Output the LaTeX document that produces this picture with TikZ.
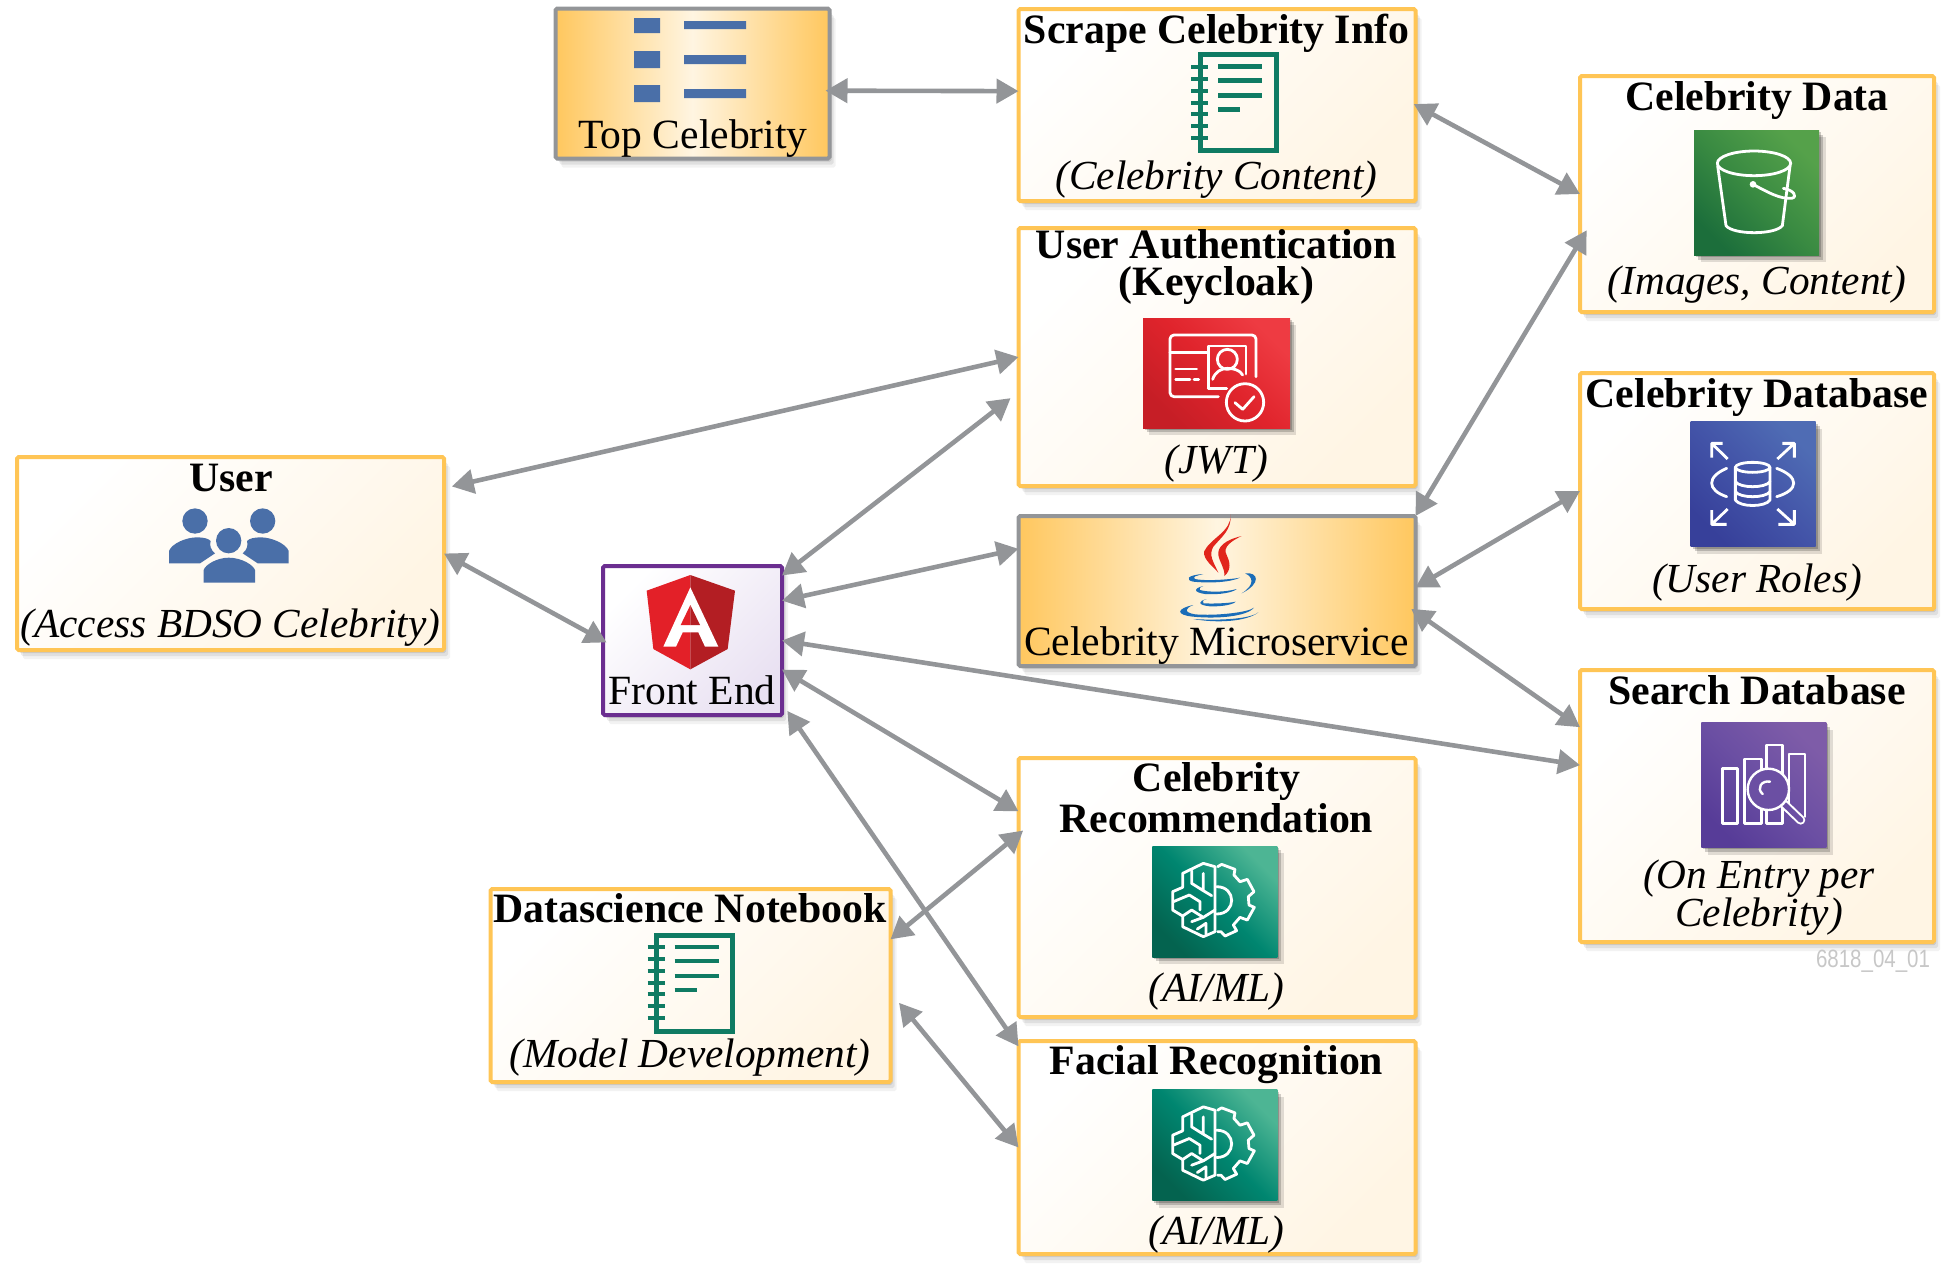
\documentclass[tikz,border=0pt]{standalone}
\usepackage{fontspec}
\setmainfont{Liberation Serif}
\newfontfamily\tagfont[FakeStretch=0.82]{Liberation Sans}
\usepackage{tikz}
\usetikzlibrary{positioning, shadows, arrows.meta}
\definecolor{panelyellow}{HTML}{FFC555}
\definecolor{panelcream}{HTML}{FFF5E4}
\definecolor{warmorange}{HTML}{FFC75E}
\definecolor{warmcream}{HTML}{FFF5E1}
\definecolor{linkgray}{HTML}{939598}
\definecolor{frontpurple}{HTML}{6B2E90}
\definecolor{frontlilac}{HTML}{E9E1F2}
\definecolor{listblue}{HTML}{4A6FA8}
\definecolor{noteteal}{HTML}{0F7B63}
\definecolor{javablue}{HTML}{1B6DB8}
\definecolor{javared}{HTML}{E1251B}
\definecolor{shieldred}{HTML}{E32028}
\definecolor{shielddark}{HTML}{B31E23}
\definecolor{redtop}{HTML}{EE3B42}
\definecolor{redmid}{HTML}{E0242C}
\definecolor{redlow}{HTML}{C61E26}
\definecolor{greentop}{HTML}{55A14A}
\definecolor{greenmid}{HTML}{3A8B42}
\definecolor{greenlow}{HTML}{1C6E3B}
\definecolor{bluetop}{HTML}{4F6CB4}
\definecolor{bluemid}{HTML}{4354A8}
\definecolor{bluelow}{HTML}{37409A}
\definecolor{purpletop}{HTML}{7E5CA8}
\definecolor{purplemid}{HTML}{6B4FA3}
\definecolor{purplelow}{HTML}{573C98}
\definecolor{tealtop}{HTML}{4DB594}
\definecolor{tealmid}{HTML}{008670}
\definecolor{teallow}{HTML}{04634F}
\tikzset{
    auto,node distance =14pt and 14pt,
    softshadow/.style ={drop shadow={shadow xshift=1pt,shadow yshift=-1.5pt,opacity=.1,fill=black},
        drop shadow={shadow xshift=2pt,shadow yshift=-3pt,opacity=.08,fill=black},
        drop shadow={shadow xshift=3pt,shadow yshift=-4.5pt,opacity=.05,fill=black}},
    panel/.style ={rectangle, draw=panelyellow, line width=2pt, rounded corners=.8pt, inner sep=0pt, outer sep=0pt,
        softshadow, top color=white, bottom color=panelcream, shading angle=45},
    warmpanel/.style ={panel, draw=linkgray, left color=warmorange, right color=warmorange, middle color=warmcream},
    frontpanel/.style ={panel, draw=frontpurple, top color=white, bottom color=frontlilac, shading angle=45},
    iconbase/.style ={rectangle, inner sep=0pt, outer sep=0pt, minimum width=62.5pt, minimum height=62.5pt,
        drop shadow={shadow xshift=1pt,shadow yshift=-1pt,opacity=.2,fill=black},
        drop shadow={shadow xshift=2pt,shadow yshift=-2.2pt,opacity=.18,fill=black},
        drop shadow={shadow xshift=3.2pt,shadow yshift=-3.6pt,opacity=.12,fill=black}},
    iconline/.style ={draw=white, line width=1.4pt, line join=round, line cap=round},
    titletext/.style ={font=\fontsize{20.9}{20.9}\selectfont\bfseries, anchor=base, inner sep=0pt, align=center},
    notetext/.style ={font=\fontsize{20.65}{20.65}\selectfont\itshape, anchor=base, inner sep=0pt, align=center},
    plaintext/.style ={font=\fontsize{20.8}{20.8}\selectfont, anchor=base, inner sep=0pt},
    linkarrow/.style ={color=linkgray, line width=2.3pt, {Triangle[length=11pt,width=12pt]}-{Triangle[length=11pt,width=12pt]}},
    crop/.style 2 args={shift={(#1,#2)}, x=.16667pt, y=-.16667pt},
    notebook/.pic ={
        \draw[noteteal, line width=2.5pt] (-38,-48) rectangle (38,48);
        \draw[noteteal, line width=2.2pt] (-47,-36) -- (-30,-36) (-47,-24) -- (-30,-24) (-47,-12) -- (-30,-12)
            (-47,0) -- (-30,0) (-47,11) -- (-30,11) (-47,23) -- (-30,23) (-47,35) -- (-30,35);
        \draw[noteteal, line width=2.3pt] (-20,-36) -- (24,-36) (-20,-22) -- (24,-22) (-20,-7) -- (24,-7) (-20,7) -- (2,7);
    },
    brainicon/.pic ={
        \begin{scope}[crop={-94.83}{-71.5}]
            \draw[iconline] (285,110) -- (250,100) -- (188,130) -- (188,172) -- (158,185) -- (158,240) -- (188,258)
                -- (188,290) -- (250,320) -- (285,305) -- cycle;
            \draw[iconline] (215,122) -- (215,160) -- (250,182) -- (275,197) (250,130) -- (250,182)
                (160,215) -- (208,195) -- (240,215) -- (240,240) (188,258) -- (215,240) -- (250,262) -- (285,240)
                (215,275) -- (250,262) (232,297) -- (258,280) -- (258,312);
            \draw[iconline] (293,110) -- (305,103) -- (345,118) -- (342,135) -- (360,155) -- (382,148) -- (402,185)
                -- (385,200) -- (387,225) -- (403,232) -- (382,270) -- (360,262) -- (340,285) -- (350,302) -- (315,318)
                -- (303,305) -- (293,305);
            \draw[iconline] (290,170) .. controls (350,170) and (350,252) .. (290,252);
        \end{scope}
    },
}
\begin{document}
\begin{tikzpicture}[x=.5pt, y=-.5pt]
    \useasboundingbox (0,0) rectangle (1950,1266);
    % panels
    \node[warmpanel, minimum width=137pt, minimum height=75pt] (top) at (692.5,83.5) {};
    \node[panel, minimum width=198.5pt, minimum height=96pt] (scrape) at (1217,105) {};
    \node[panel, minimum width=198.5pt, minimum height=129pt] (auth) [below =13.5pt of scrape] {};
    \node[warmpanel, minimum width=198.5pt, minimum height=75pt] (micro) [below =15pt of auth] {};
    \node[panel, minimum width=198.5pt, minimum height=129.5pt] (rec) [below =46pt of micro] {};
    \node[panel, minimum width=198.5pt, minimum height=106.5pt] (facial) [below =12pt of rec] {};
    \node[panel, minimum width=177pt, minimum height=118pt] (data) at (1757,194) {};
    \node[panel, minimum width=177pt, minimum height=118pt] (db) [below =30.5pt of data] {};
    \node[panel, minimum width=177pt, minimum height=136pt] (search) [below =30.5pt of db] {};
    \node[panel, minimum width=213.5pt, minimum height=96.5pt] (user) at (230.5,553.5) {};
    \node[frontpanel, minimum width=89.5pt, minimum height=74.5pt] (front) at (692.5,640.5) {};
    \node[panel, minimum width=200pt, minimum height=96.5pt] (notes) at (690.5,985.5) {};
    % panel texts
    \node[plaintext] (toptext) at (693,148) {Top Celebrity};
    \node[titletext] (scrapetitle) at (1216.5,43) {Scrape Celebrity Info};
    \node[notetext] (scrapenote) at (1216.5,189) {(Celebrity Content)};
    \node[titletext] (authtitle) at (1216.5,295.5) {User Authentication\\[-2.4pt](Keycloak)};
    \node[notetext] (authnote) at (1216.5,473) {(JWT)};
    \node[plaintext] (microtext) at (1216.5,655) {Celebrity Microservice};
    \node[titletext] (rectitle) at (1216.5,832) {Celebrity\\[-.4pt]Recommendation};
    \node[notetext] (recnote) at (1216.5,1001) {(AI/ML)};
    \node[titletext] (facialtitle) at (1216.5,1074) {Facial Recognition};
    \node[notetext] (facialnote) at (1216.5,1244) {(AI/ML)};
    \node[titletext] (datatitle) at (1757,110) {Celebrity Data};
    \node[notetext] (datanote) at (1757,294) {(Images, Content)};
    \node[titletext] (dbtitle) at (1757,407) {Celebrity Database};
    \node[notetext] (dbnote) at (1757,592) {(User Roles)};
    \node[titletext] (searchtitle) at (1757,704) {Search Database};
    \node[notetext] (searchnote) at (1759,926) {(On Entry per\\[-1.7pt]Celebrity)};
    \node[titletext] (usertitle) at (231,491) {User};
    \node[notetext] (usernote) at (230.5,637) {(Access BDSO Celebrity)};
    \node[plaintext] (fronttext) at (692,704) {Front End};
    \node[titletext] (notestitle) at (690,922) {Datascience Notebook};
    \node[notetext] (notesnote) at (690,1067) {(Model Development)};
    \node[font=\tagfont\fontsize{12.5}{12.5}\selectfont, text=black!22, anchor=base, inner sep=0pt] (tag) at (1873,967) {6818\_04\_01};
    % icon squares
    \node[iconbase, minimum width=73.5pt, minimum height=55pt, top color=redtop, bottom color=redlow, middle color=redmid, shading angle=-45] (authicon) at (1216.5,373) {};
    \node[iconbase, top color=greentop, bottom color=greenlow, middle color=greenmid, shading angle=-45] (dataicon) at (1756.7,192.7) {};
    \node[iconbase, top color=bluetop, bottom color=bluelow, middle color=bluemid, shading angle=-45] (dbicon) at (1753,484) {};
    \node[iconbase, top color=purpletop, bottom color=purplelow, middle color=purplemid, shading angle=-45] (searchicon) at (1763.8,784.8) {};
    \node[iconbase, minimum height=55.5pt, top color=tealtop, bottom color=teallow, middle color=tealmid, shading angle=-45] (recicon) at (1214.8,901.5) {};
    \node[iconbase, minimum height=55.5pt, top color=tealtop, bottom color=teallow, middle color=tealmid, shading angle=-45] (facialicon) at (1214.8,1145) {};
    % list icon
    \fill[listblue] (634,18) rectangle (660,33) (634,51) rectangle (660,68) (634,85) rectangle (660,102);
    \fill[listblue] (684,21) rectangle (746,29) (684,55) rectangle (746,64) (684,89) rectangle (746,98);
    % notebooks
    \pic at (1238,102.7) {notebook};
    \pic at (694.5,983) {notebook};
    % id card
    \begin{scope}[crop={1000}{220}]
        \draw[iconline, rounded corners=2pt] (655,530) -- (510,530) -- (510,345) -- (768,345) -- (768,470);
        \draw[iconline] (510,398) -- (622,398) (527,447) -- (590,447) (527,478) -- (570,478) (582,478) -- (596,478);
        \draw[iconline] (625,505) -- (680,505) (625,505) -- (625,378) -- (738,378) -- (738,462);
        \draw[iconline] (682,418) circle[radius=30];
        \draw[iconline] (638,478) .. controls (645,455) and (665,445) .. (682,445) .. controls (700,445) and (720,450) .. (728,465);
        \draw[iconline] (735,547) circle[radius=56];
        \draw[iconline] (705,548) -- (728,568) -- (762,530);
    \end{scope}
    % bucket
    \begin{scope}[crop={1570}{60}]
        \draw[iconline] (552,310) circle[x radius=110, y radius=37];
        \draw[iconline] (443,318) -- (468,497) .. controls (490,525) and (615,525) .. (637,497) -- (660,318);
        \fill[white] (549,373) circle[radius=10];
        \draw[iconline] (549,373) .. controls (590,395) and (630,418) .. (665,415) .. controls (685,410) and (670,390) .. (640,385);
    \end{scope}
    % database
    \begin{scope}[crop={1570}{360}]
        \draw[iconline] (548,322) circle[x radius=52, y radius=15];
        \draw[iconline] (496,322) -- (496,420) .. controls (510,442) and (586,442) .. (600,420) -- (600,322);
        \draw[iconline] (496,365) .. controls (510,385) and (586,385) .. (600,365) (496,395) .. controls (510,415) and (586,415) .. (600,395);
        \draw[iconline] (470,325) .. controls (410,350) and (410,390) .. (470,410);
        \draw[iconline] (620,325) .. controls (688,350) and (688,390) .. (620,410);
        \draw[iconline, line cap=butt] (458,250) -- (425,250) -- (425,293) (425,250) -- (473,297);
        \draw[iconline, line cap=butt] (637,250) -- (673,250) -- (673,293) (673,250) -- (622,297);
        \draw[iconline, line cap=butt] (470,493) -- (425,493) -- (425,450) (425,493) -- (473,447);
        \draw[iconline, line cap=butt] (625,493) -- (673,493) -- (673,450) (673,493) -- (622,447);
    \end{scope}
    % search bars and lens
    \begin{scope}[crop={1570}{660}]
        \draw[iconline, line width=1.2pt] (458,325) rectangle (503,490) (523,297) rectangle (575,490);
        \draw[iconline, line width=1.2pt] (590,255) rectangle (637,490) (657,282) -- (705,282) -- (705,470) (657,282) -- (657,440);
        \draw[draw=white, line width=4.6pt, line cap=round] (640,430) -- (692,480);
        \draw[draw=purplemid, line width=2.6pt, line cap=round] (640,430) -- (692,480);
        \draw[iconline, fill=purplemid, line width=1.2pt] (595,388) circle[radius=62];
        \draw[iconline, line width=1.2pt] (578,402) .. controls (558,385) and (575,360) .. (600,365);
    \end{scope}
    % brains
    \pic at (1214.8,901.5) {brainicon};
    \pic at (1214.8,1145) {brainicon};
    % java cup
    \begin{scope}[crop={1130}{505}]
        \fill[javared] (302,28) .. controls (305,80) and (240,100) .. (222,140) .. controls (220,165) and (250,185) .. (265,203)
            .. controls (250,170) and (235,150) .. (250,125) .. controls (275,95) and (305,75) .. (302,28);
        \fill[javared] (335,93) .. controls (285,105) and (262,125) .. (265,150) .. controls (270,175) and (285,190) .. (283,213)
            .. controls (305,195) and (300,170) .. (290,150) .. controls (275,125) and (310,105) .. (335,93);
        \fill[javablue] (220,207) .. controls (170,210) and (165,225) .. (190,230) .. controls (240,235) and (300,232) .. (330,218)
            .. controls (290,225) and (220,228) .. (195,222) .. controls (185,215) and (200,212) .. (220,207);
        \fill[javablue] (345,205) .. controls (385,200) and (395,235) .. (335,265) .. controls (375,240) and (370,215) .. (345,205);
        \fill[javablue] (220,243) .. controls (190,250) and (190,262) .. (225,267) .. controls (270,270) and (310,262) .. (320,252)
            .. controls (285,262) and (235,262) .. (210,255) .. controls (205,250) and (210,247) .. (220,243);
        \fill[javablue] (230,282) .. controls (205,288) and (200,300) .. (240,304) .. controls (280,305) and (310,298) .. (317,290)
            .. controls (290,296) and (240,296) .. (220,295) .. controls (215,288) and (220,285) .. (230,282);
        \fill[javablue] (190,300) .. controls (140,310) and (135,330) .. (190,335) .. controls (260,342) and (350,335) .. (372,308)
            .. controls (355,322) and (260,333) .. (195,328) .. controls (160,322) and (165,310) .. (190,300);
        \fill[javablue] (190,342) .. controls (260,355) and (350,350) .. (385,322) .. controls (360,342) and (270,347) .. (190,342);
    \end{scope}
    % angular shield
    \begin{scope}[crop={590}{555}]
        \fill[shieldred] (301,60) -- (170,107) -- (190,282) -- (301,343) -- cycle;
        \fill[shielddark] (301,60) -- (435,107) -- (413,282) -- (301,343) -- cycle;
        \fill[white] (301,97) -- (220,275) -- (258,275) -- (278,232) -- (325,232) -- (345,275) -- (385,275) -- cycle;
        \fill[shieldred] (301,150) -- (272,210) -- (301,210) -- cycle;
        \fill[shielddark] (301,150) -- (330,210) -- (301,210) -- cycle;
    \end{scope}
    % people
    \begin{scope}[crop={0}{445}]
        \fill[listblue] (585,228) circle[radius=38] (788,228) circle[radius=38] (686,287) circle[radius=38];
        \fill[listblue] (507,355) -- (507,318) .. controls (515,295) and (560,277) .. (590,277) .. controls (610,277) and (625,280) .. (632,288)
            .. controls (628,300) and (632,315) .. (645,325) -- (600,355) -- cycle;
        \fill[listblue] (866,355) -- (866,318) .. controls (858,295) and (813,277) .. (783,277) .. controls (763,277) and (748,280) .. (741,288)
            .. controls (745,300) and (741,315) .. (728,325) -- (773,355) -- cycle;
        \fill[listblue] (611,413) -- (611,375) .. controls (615,360) and (650,338) .. (686,338) .. controls (725,338) and (760,360) .. (765,375)
            -- (765,413) -- cycle;
    \end{scope}
    % connectors
    \path[linkarrow, shorten <=-2pt] (top.-3.8) edge (scrape.176.4);
    \path[linkarrow, shorten <=-1pt] (scrape.east) edge (data.west);
    \path[linkarrow, shorten <=-6.5pt] (data.195.7) edge (micro.north east);
    \path[linkarrow] (micro.1.2) edge (db.west);
    \path[linkarrow, shorten <=-2.6pt] (micro.-6.1) edge (search.156.1);
    \path[linkarrow] (front.east) edge (search.167.5);
    \path[linkarrow, shorten >=5pt] (front.36.2) edge (auth.190.5);
    \path[linkarrow] (front.24.3) edge (micro.168.4);
    \path[linkarrow, shorten <=4pt] (user.17.2) edge (auth.west);
    \path[linkarrow, shorten >=-2pt] (user.east) edge (front.west);
    \path[linkarrow] (front.-18.8) edge (rec.159.3);
    \path[linkarrow, shorten <=4.7pt] (front.-35.1) edge (facial.153.7);
    \path[linkarrow, shorten >=-3pt] (notes.13.8) edge (rec.165.9);
    \path[linkarrow, shorten <=6.7pt] (notes.-2.3) edge (facial.west);
\end{tikzpicture}
\end{document}
